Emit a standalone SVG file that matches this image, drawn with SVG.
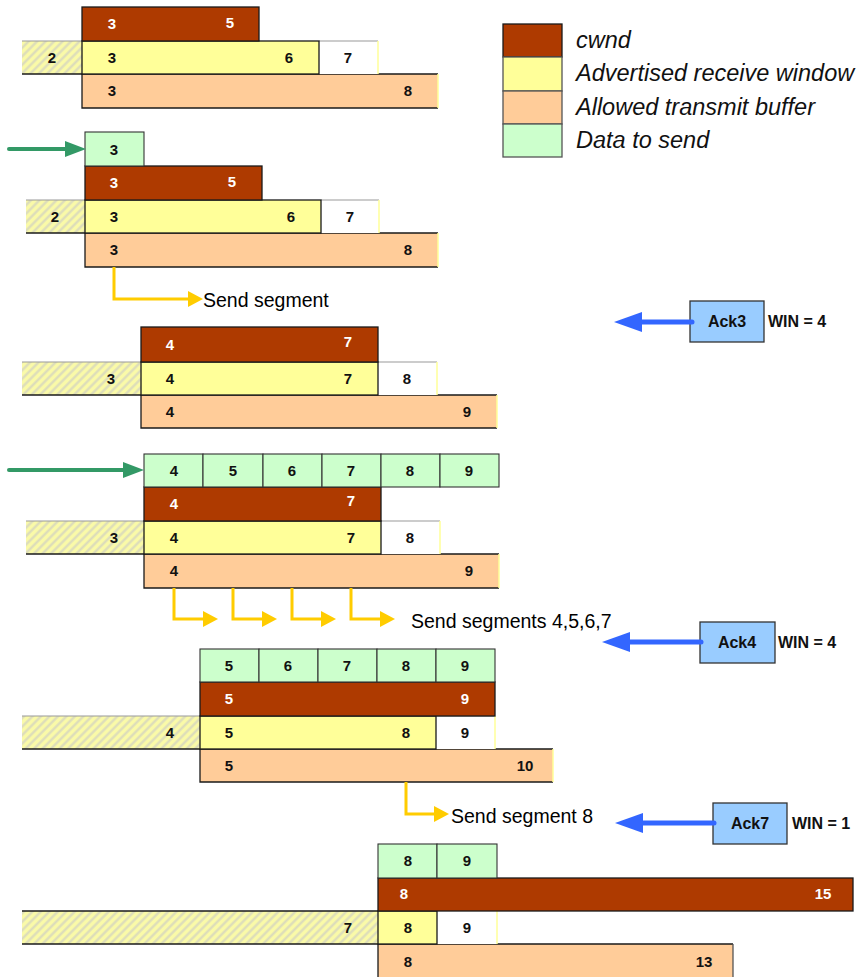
<svg xmlns="http://www.w3.org/2000/svg" width="858" height="977" viewBox="0 0 858 977">
  <style>
    .cw { fill: #AE3A00; stroke: #1a1a1a; stroke-width: 1.3; }
    .yw { fill: #FFFF99; stroke: #1a1a1a; stroke-width: 1.3; }
    .or { fill: #FFCC99; }
    .gr { fill: #CCFFCC; stroke: #333; stroke-width: 1.1; }
    .wh { fill: #FFFFFF; }
    .ht { fill: url(#hatch); }
    .ln { stroke: #1a1a1a; stroke-width: 1.3; fill: none; }
    .lg { stroke: #999; stroke-width: 1; fill: none; }
    .ly { stroke: #FFFF99; stroke-width: 1.5; fill: none; }
    .ack { fill: #99CCFF; stroke: #333; stroke-width: 1.3; }
    .n { font-family: "Liberation Sans", Arial, sans-serif; font-weight: bold; font-size: 15px; text-anchor: middle; fill: #111; }
    .nw { fill: #FFFFFF; }
    .lab { font-family: "Liberation Sans", Arial, sans-serif; font-weight: bold; font-size: 16px; fill: #111; }
    .snd { font-family: "Liberation Sans", Arial, sans-serif; font-size: 19.5px; fill: #000; }
    .leg { font-family: "Liberation Sans", Arial, sans-serif; font-style: italic; font-size: 23.5px; fill: #111; }
    .cy { stroke: #FFCC00; stroke-width: 3; fill: none; marker-end: url(#headY); }
    .cg { stroke: #339966; stroke-width: 4; fill: none; stroke-linecap: round; marker-end: url(#headG); }
    .cb { stroke: #3366FF; stroke-width: 5; fill: none; stroke-linecap: round; marker-end: url(#headB); }
  </style>
  <defs>
    <pattern id="hatch" patternUnits="userSpaceOnUse" width="6" height="6" patternTransform="rotate(45)">
      <rect width="6" height="6" fill="#FAFAA8"/>
      <line x1="1.5" y1="0" x2="1.5" y2="6" stroke="#DADABC" stroke-width="2.2"/>
    </pattern>
    <marker id="headY" markerUnits="userSpaceOnUse" markerWidth="16" markerHeight="18" viewBox="0 0 16 18" refX="0" refY="9" orient="auto">
      <path d="M0,1 L15,9 L0,17 Z" fill="#FFCC00"/>
    </marker>
    <marker id="headG" markerUnits="userSpaceOnUse" markerWidth="22" markerHeight="18" viewBox="0 0 22 18" refX="0" refY="9" orient="auto">
      <path d="M0,1 L21,9 L0,17 Z" fill="#339966"/>
    </marker>
    <marker id="headB" markerUnits="userSpaceOnUse" markerWidth="29" markerHeight="22" viewBox="0 0 29 22" refX="0" refY="11" orient="auto">
      <path d="M0,1 L28,11 L0,21 Z" fill="#3366FF"/>
    </marker>
  </defs>

  <!-- legend -->
  <g id="legend">
    <rect x="503" y="24" width="59" height="33" class="cw"/>
    <rect x="503" y="57" width="59" height="34" class="yw" style="stroke:#555"/>
    <rect x="503" y="91" width="59" height="33" class="or" style="stroke:#555;stroke-width:1.3"/>
    <rect x="503" y="124" width="59" height="33" class="gr" style="stroke:#555;stroke-width:1.3"/>
    <text x="576" y="48" class="leg">cwnd</text>
    <text x="576" y="81" class="leg">Advertised receive window</text>
    <text x="576" y="115" class="leg">Allowed transmit buffer</text>
    <text x="576" y="148" class="leg">Data to send</text>
  </g>

  <!-- state 1 -->
  <g id="state1">
    <rect x="82" y="74" width="356" height="34" class="or"/>
    <path d="M438,74 H82 V108 H438" class="ln"/>
    <line x1="438" y1="74" x2="438" y2="108" class="ly"/>
    <rect x="22" y="41" width="60" height="33" class="ht"/>
    <line x1="22" y1="41" x2="82" y2="41" class="lg"/>
    <line x1="22" y1="74" x2="82" y2="74" class="ln"/>
    <rect x="319" y="41" width="59" height="33" class="wh"/>
    <line x1="319" y1="41" x2="378" y2="41" class="lg"/>
    <line x1="378" y1="41" x2="378" y2="74" class="ly"/>
    <rect x="82" y="41" width="237" height="33" class="yw"/>
    <rect x="82" y="7" width="177" height="34" class="cw"/>
    <text x="112" y="29" class="n nw">3</text><text x="230" y="28" class="n nw">5</text>
    <text x="52" y="63" class="n">2</text><text x="112" y="63" class="n">3</text><text x="289" y="63" class="n">6</text><text x="348" y="63" class="n">7</text>
    <text x="112" y="96" class="n">3</text><text x="408" y="96" class="n">8</text>
  </g>

  <!-- state 2 -->
  <g id="state2">
    <rect x="85" y="233" width="353" height="34" class="or"/>
    <path d="M438,233 H85 V267 H438" class="ln"/>
    <line x1="438" y1="233" x2="438" y2="267" class="ly"/>
    <rect x="26" y="200" width="59" height="33" class="ht"/>
    <line x1="26" y1="200" x2="85" y2="200" class="lg"/>
    <line x1="26" y1="233" x2="85" y2="233" class="ln"/>
    <rect x="321" y="200" width="58" height="33" class="wh"/>
    <line x1="321" y1="200" x2="379" y2="200" class="lg"/>
    <line x1="379" y1="200" x2="379" y2="233" class="ly"/>
    <rect x="85" y="200" width="236" height="33" class="yw"/>
    <rect x="85" y="166" width="177" height="34" class="cw"/>
    <rect x="85" y="132" width="59" height="34" class="gr"/>
    <text x="114" y="155" class="n">3</text>
    <text x="114" y="188" class="n nw">3</text><text x="232" y="187" class="n nw">5</text>
    <text x="55" y="222" class="n">2</text><text x="114" y="222" class="n">3</text><text x="291" y="222" class="n">6</text><text x="350" y="222" class="n">7</text>
    <text x="114" y="255" class="n">3</text><text x="408" y="255" class="n">8</text>
    <text x="203" y="307" class="snd">Send segment</text>
  </g>

  <!-- state 3 -->
  <g id="state3">
    <rect x="141" y="395" width="356" height="33" class="or"/>
    <path d="M497,395 H141 V428 H497" class="ln"/>
    <line x1="497" y1="395" x2="497" y2="428" class="ly"/>
    <rect x="22" y="362" width="119" height="33" class="ht"/>
    <line x1="22" y1="362" x2="141" y2="362" class="lg"/>
    <line x1="22" y1="395" x2="141" y2="395" class="ln"/>
    <rect x="378" y="362" width="59" height="33" class="wh"/>
    <line x1="378" y1="362" x2="437" y2="362" class="lg"/>
    <line x1="437" y1="362" x2="437" y2="395" class="ly"/>
    <rect x="141" y="362" width="237" height="33" class="yw"/>
    <rect x="141" y="327" width="237" height="35" class="cw"/>
    <text x="170" y="350" class="n nw">4</text><text x="348" y="347" class="n nw">7</text>
    <text x="111" y="384" class="n">3</text><text x="170" y="384" class="n">4</text><text x="348" y="384" class="n">7</text><text x="407" y="384" class="n">8</text>
    <text x="170" y="417" class="n">4</text><text x="467" y="417" class="n">9</text>
  </g>

  <!-- state 4 -->
  <g id="state4">
    <rect x="144" y="554" width="355" height="34" class="or"/>
    <path d="M499,554 H144 V588 H499" class="ln"/>
    <line x1="499" y1="554" x2="499" y2="588" class="ly"/>
    <rect x="26" y="521" width="118" height="33" class="ht"/>
    <line x1="26" y1="521" x2="144" y2="521" class="lg"/>
    <line x1="26" y1="554" x2="144" y2="554" class="ln"/>
    <rect x="381" y="521" width="59" height="33" class="wh"/>
    <line x1="381" y1="521" x2="440" y2="521" class="lg"/>
    <line x1="440" y1="521" x2="440" y2="554" class="ly"/>
    <rect x="144" y="521" width="237" height="33" class="yw"/>
    <rect x="144" y="487" width="237" height="34" class="cw"/>
    <rect x="144" y="454" width="59" height="33" class="gr"/>
    <rect x="203" y="454" width="60" height="33" class="gr"/>
    <rect x="263" y="454" width="59" height="33" class="gr"/>
    <rect x="322" y="454" width="59" height="33" class="gr"/>
    <rect x="381" y="454" width="59" height="33" class="gr"/>
    <rect x="440" y="454" width="59" height="33" class="gr"/>
    <text x="174" y="476" class="n">4</text><text x="233" y="476" class="n">5</text><text x="292" y="476" class="n">6</text><text x="351" y="476" class="n">7</text><text x="410" y="476" class="n">8</text><text x="469" y="476" class="n">9</text>
    <text x="174" y="509" class="n nw">4</text><text x="351" y="506" class="n nw">7</text>
    <text x="114" y="543" class="n">3</text><text x="174" y="543" class="n">4</text><text x="351" y="543" class="n">7</text><text x="410" y="543" class="n">8</text>
    <text x="174" y="576" class="n">4</text><text x="469" y="576" class="n">9</text>
    <text x="411" y="628" class="snd">Send segments 4,5,6,7</text>
  </g>

  <!-- state 5 -->
  <g id="state5">
    <rect x="200" y="749" width="353" height="33" class="or"/>
    <path d="M553,749 H200 V782 H553" class="ln"/>
    <line x1="553" y1="749" x2="553" y2="782" class="ly"/>
    <rect x="22" y="716" width="178" height="33" class="ht"/>
    <line x1="22" y1="716" x2="200" y2="716" class="lg"/>
    <line x1="22" y1="749" x2="200" y2="749" class="ln"/>
    <rect x="436" y="716" width="59" height="33" class="wh"/>
    <line x1="436" y1="716" x2="495" y2="716" class="lg"/>
    <line x1="495" y1="716" x2="495" y2="749" class="ly"/>
    <rect x="200" y="716" width="236" height="33" class="yw"/>
    <rect x="200" y="682" width="295" height="34" class="cw"/>
    <rect x="200" y="649" width="59" height="33" class="gr"/>
    <rect x="259" y="649" width="59" height="33" class="gr"/>
    <rect x="318" y="649" width="59" height="33" class="gr"/>
    <rect x="377" y="649" width="59" height="33" class="gr"/>
    <rect x="436" y="649" width="59" height="33" class="gr"/>
    <text x="229" y="671" class="n">5</text><text x="288" y="671" class="n">6</text><text x="347" y="671" class="n">7</text><text x="406" y="671" class="n">8</text><text x="465" y="671" class="n">9</text>
    <text x="229" y="704" class="n nw">5</text><text x="465" y="704" class="n nw">9</text>
    <text x="170" y="738" class="n">4</text><text x="229" y="738" class="n">5</text><text x="406" y="738" class="n">8</text><text x="465" y="738" class="n">9</text>
    <text x="229" y="771" class="n">5</text><text x="525" y="771" class="n">10</text>
    <text x="451" y="823" class="snd">Send segment 8</text>
  </g>

  <!-- state 6 -->
  <g id="state6">
    <rect x="378" y="944" width="355" height="34" class="or"/>
    <path d="M733,944 H378 V978" class="ln"/>
    <line x1="733" y1="944" x2="733" y2="978" class="ln" style="stroke:#555"/>
    <rect x="22" y="911" width="356" height="33" class="ht"/>
    <line x1="22" y1="911" x2="378" y2="911" class="ln"/>
    <line x1="22" y1="944" x2="378" y2="944" class="ln"/>
    <rect x="437" y="911" width="60" height="33" class="wh"/>
    <line x1="497" y1="911" x2="497" y2="944" class="ly"/>
    <rect x="378" y="911" width="59" height="33" class="yw"/>
    <rect x="378" y="878" width="475" height="33" class="cw"/>
    <rect x="378" y="844" width="59" height="34" class="gr"/>
    <rect x="437" y="844" width="60" height="34" class="gr"/>
    <text x="408" y="866" class="n">8</text><text x="467" y="866" class="n">9</text>
    <text x="404" y="899" class="n nw">8</text><text x="823" y="899" class="n nw">15</text>
    <text x="348" y="933" class="n">7</text><text x="408" y="933" class="n">8</text><text x="467" y="933" class="n">9</text>
    <text x="408" y="967" class="n">8</text><text x="704" y="967" class="n">13</text>
  </g>

  <!-- acknowledgements -->
  <g id="ack3">
    <rect x="690" y="301" width="74" height="41" class="ack"/>
    <text x="727" y="327" class="lab" text-anchor="middle">Ack3</text>
    <text x="768" y="327" class="lab">WIN = 4</text>
  </g>
  <g id="ack4">
    <rect x="700" y="622" width="75" height="41" class="ack"/>
    <text x="737" y="648" class="lab" text-anchor="middle">Ack4</text>
    <text x="778" y="648" class="lab">WIN = 4</text>
  </g>
  <g id="ack7">
    <rect x="713" y="803" width="74" height="41" class="ack"/>
    <text x="750" y="829" class="lab" text-anchor="middle">Ack7</text>
    <text x="792" y="829" class="lab">WIN = 1</text>
  </g>

  <!-- connectors -->
  <g id="connectors">
    <path d="M9,149 H65" class="cg"/>
    <path d="M9,470 H123" class="cg"/>
    <path d="M114,267 V299 H188" class="cy"/>
    <path d="M174,588 V619 H203" class="cy"/>
    <path d="M233,588 V619 H262" class="cy"/>
    <path d="M292,588 V619 H321" class="cy"/>
    <path d="M351,588 V619 H380" class="cy"/>
    <path d="M406,782 V814 H434" class="cy"/>
    <path d="M692,322 H642" class="cb"/>
    <path d="M701,642 H630" class="cb"/>
    <path d="M714,823 H643" class="cb"/>
  </g>
</svg>
